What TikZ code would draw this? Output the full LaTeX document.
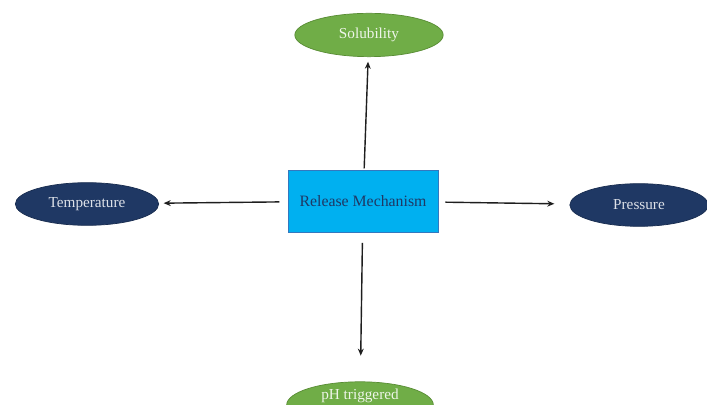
\documentclass[tikz,border=0pt]{standalone}
\usepackage{fontspec}
\setmainfont{Liberation Serif}
\usepackage{xcolor}
\definecolor{leaf}{RGB}{112,173,71}
\definecolor{leafdark}{RGB}{88,140,52}
\definecolor{navy}{RGB}{31,56,100}
\definecolor{sky}{RGB}{0,176,240}
\definecolor{skyedge}{RGB}{52,120,190}
\definecolor{inkdark}{RGB}{30,30,30}
\usetikzlibrary{arrows.meta,positioning,shapes.geometric}
\tikzset{
  greenfactor/.style={ellipse, draw=leafdark, fill=leaf, line width=0.6pt,
    inner sep=0pt, minimum width=4.45cm, minimum height=1.3cm,
    text=white!88!leaf, font=\fontsize{13}{15}\selectfont},
  bluefactor/.style={ellipse, draw=navy!80!black, fill=navy, line width=0.6pt,
    inner sep=0pt, minimum width=4.3cm, minimum height=1.28cm,
    text=white!85!navy, font=\fontsize{13}{15}\selectfont},
  mechbox/.style={rectangle, draw=skyedge, fill=sky, line width=0.6pt,
    minimum width=4.5cm, minimum height=1.86cm,
    text=navy, font=\fontsize{13.5}{16}\selectfont},
  link/.style={-{Stealth[length=6pt,width=5pt]}, draw=inkdark, line width=1.2pt},
}
\begin{document}
\begin{tikzpicture}[x=0.03cm,y=-0.03cm]
\clip (0,0) rectangle (707,405);
\fill[white] (0,0) rectangle (707,405);

% centre and the four factors
\node[mechbox] (mech) at (363,201) {Release Mechanism};
\node[greenfactor] (sol) at (369,35) {Solubility};
\node[bluefactor] (temp) at (87,204) {Temperature};
\node[bluefactor, minimum width=4.15cm] (pres) at (639,205) {Pressure};
\node[greenfactor, minimum width=4.4cm] (ph) at (360,405) {\raisebox{19pt}{pH triggered}};

% arrows
\draw[link, shorten <=1pt, shorten >=4pt] (mech) -- (sol);
\draw[link, shorten <=7pt, shorten >=4pt] (mech) -- (temp);
\draw[link, shorten <=6pt, shorten >=13pt] (mech) -- (pres);
\draw[link, shorten <=9pt, shorten >=22pt] (mech) -- (ph);
\end{tikzpicture}
\end{document}
